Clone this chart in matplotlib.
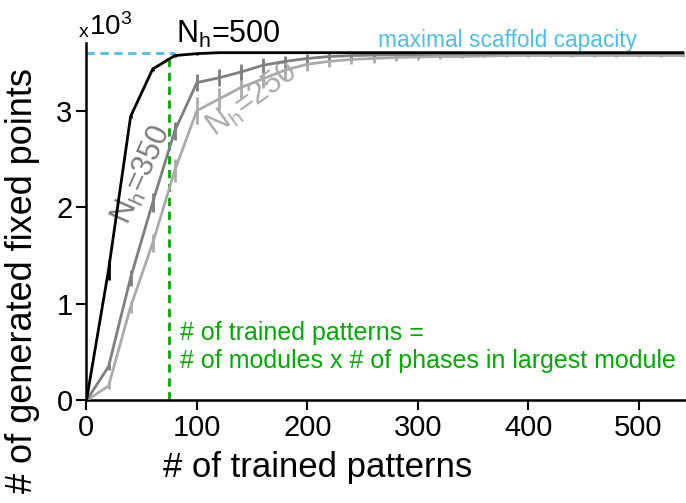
import matplotlib
matplotlib.use("Agg")
import matplotlib.pyplot as plt
import numpy as np

plt.rcParams['font.family'] = ['Liberation Sans', 'DejaVu Sans']
plt.rcParams['mathtext.fontset'] = 'custom'
plt.rcParams['mathtext.rm'] = 'Liberation Sans'
plt.rcParams['mathtext.it'] = 'Liberation Sans:italic'

# ---- data ----
patterns = [0, 20, 40, 60, 80, 100, 120, 140, 160, 180, 200, 220, 240, 260, 280,
            300, 320, 340, 360, 380, 400, 420, 440, 460, 480, 500, 520, 540]

fp_500 = [0, 1350, 2940, 3430, 3570, 3590, 3600, 3600, 3600, 3600, 3600, 3600, 3600, 3600, 3600,
          3600, 3600, 3600, 3600, 3600, 3600, 3600, 3600, 3600, 3600, 3600, 3600, 3600]
err_500 = [0, 100, 20, 20, 15, 10, 5, 5, 5, 5, 5, 5, 5, 5, 5,
           5, 5, 5, 5, 5, 5, 5, 5, 5, 5, 5, 5, 5]

fp_350 = [0, 350, 1270, 2050, 2790, 3290, 3340, 3400, 3470, 3510, 3540, 3560, 3570, 3575, 3580,
          3580, 3585, 3585, 3585, 3590, 3590, 3590, 3590, 3590, 3590, 3590, 3590, 3590]
err_350 = [0, 30, 80, 100, 90, 90, 90, 80, 70, 60, 50, 40, 30, 25, 20,
           15, 15, 10, 10, 10, 10, 10, 10, 10, 10, 10, 10, 10]

fp_250 = [0, 150, 970, 1630, 2380, 3000, 3120, 3240, 3330, 3420, 3480, 3510, 3530, 3540, 3550,
          3555, 3560, 3560, 3565, 3570, 3570, 3570, 3570, 3570, 3570, 3570, 3570, 3570]
err_250 = [0, 30, 60, 90, 120, 140, 110, 110, 100, 90, 70, 60, 50, 45, 40,
           30, 30, 20, 15, 10, 10, 10, 10, 10, 10, 10, 10, 10]

capacity = 3600
critical_patterns = 75

x_ticks = [0, 100, 200, 300, 400, 500]
y_ticks = [0, 1000, 2000, 3000]
y_tick_labels = ['0', '1', '2', '3']

# ---- figure ----
fig = plt.figure(figsize=(6.86, 5.03), dpi=100)
ax = fig.add_axes([0.126, 0.2038, 0.874, 0.7107])

c500, c350, c250 = 'black', '#7f7f7f', '#ababab'
green = '#00aa00'
cyan = '#4dbfea'

ax.plot([0, 80], [capacity, capacity], ls=(0, (3, 2)), color=cyan, lw=2.0, zorder=1)
ax.plot([critical_patterns, critical_patterns], [0, capacity], ls=(0, (3, 2)), color=green, lw=2.0, zorder=1)

for y, e, c in [(fp_250, err_250, c250), (fp_350, err_350, c350), (fp_500, err_500, c500)]:
    ax.errorbar(patterns, y, yerr=e, color=c, lw=2.0, elinewidth=2.0, capsize=0, zorder=3)

ax.set_xlim(0, 543)
ax.set_ylim(0, 3700)
ax.set_xticks(x_ticks)
ax.set_yticks(y_ticks)
ax.set_yticklabels(y_tick_labels)

for s in ['top', 'right']:
    ax.spines[s].set_visible(False)
for s in ['left', 'bottom']:
    ax.spines[s].set_linewidth(1.8)
ax.tick_params(direction='out', length=7, width=1.5, labelsize=21, pad=3)

ax.set_xlabel('# of trained patterns', fontsize=25)
ax.set_ylabel('# of generated fixed points', fontsize=26)
ax.xaxis.set_label_coords(0.385, -0.14)
ax.yaxis.set_label_coords(-0.078, 0.335)

ax.text(-0.012, 1.005, 'x', transform=ax.transAxes, fontsize=14, ha='left', va='bottom')
ax.text(0.005, 1.005, r'10$^\mathregular{3}$', transform=ax.transAxes, fontsize=20, ha='left', va='bottom')

ax.text(81, 3700, r'N$_\mathrm{h}$=500', fontsize=22, color=c500, ha='left', va='baseline', clip_on=False)
ax.text(264, 3660, 'maximal scaffold capacity', fontsize=16.4, color=cyan, ha='left', va='baseline')
ax.text(50, 2340, r'N$_\mathrm{h}$=350', fontsize=22, color=c350, ha='center', va='center', rotation=66)
ax.text(150, 3110, r'N$_\mathrm{h}$=250', fontsize=22, color=c250, ha='center', va='center', rotation=36)
ax.text(85, 554, '# of trained patterns =\n# of modules x # of phases in largest module',
        fontsize=18, color=green, ha='left', va='center', linespacing=1.2)

fig.savefig('out.png', dpi=100)
